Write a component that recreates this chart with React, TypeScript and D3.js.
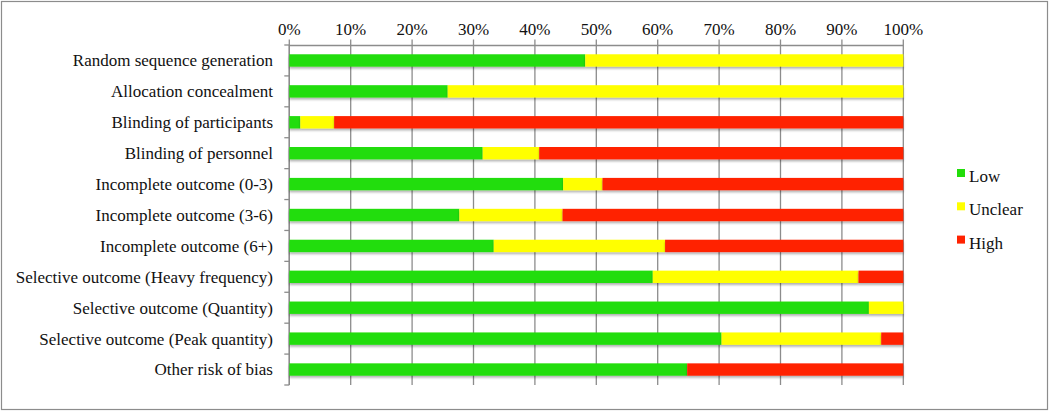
import React from "react";
import * as d3 from "d3";

// risk of bias categories, top to bottom
const categories = [
  "Random sequence generation",
  "Allocation concealment",
  "Blinding of participants",
  "Blinding of personnel",
  "Incomplete outcome (0-3)",
  "Incomplete outcome (3-6)",
  "Incomplete outcome (6+)",
  "Selective outcome (Heavy frequency)",
  "Selective outcome (Quantity)",
  "Selective outcome (Peak quantity)",
  "Other risk of bias",
];

// percentages
const low = [48.2, 25.8, 1.8, 31.5, 44.6, 27.7, 33.3, 59.2, 94.4, 70.4, 64.8];
const unclear = [51.8, 74.2, 5.5, 9.2, 6.4, 16.8, 27.9, 33.5, 5.6, 26.0, 0];
const high = [0, 0, 92.7, 59.3, 49.0, 55.5, 38.8, 7.3, 0, 3.6, 35.2];

const seriesNames = ["Low", "Unclear", "High"];
const colors = ["#22dd0a", "#ffff00", "#ff2200"];
const xTicks = [0, 10, 20, 30, 40, 50, 60, 70, 80, 90, 100];

const W = 1050;
const H = 412;
const font = "Liberation Serif, serif";
const axisColor = "#8c8c8c";

export default function App() {
  const rows = categories.map((c, i) => ({
    cat: c,
    Low: low[i],
    Unclear: unclear[i],
    High: high[i],
  }));

  const stacked = d3.stack<any>().keys(seriesNames)(rows);

  const x = d3.scaleLinear().domain([0, 100]).range([289.3, 903.3]);
  const y = d3
    .scaleBand()
    .domain(categories)
    .range([45, 385])
    .paddingInner(0.6)
    .paddingOuter(0.3);

  const boundaries = d3.range(categories.length + 1).map((i) => 45 + i * (340 / categories.length));

  return (
    <svg
      width={W}
      height={H}
      style={{ position: "absolute", left: 0, top: 0, background: "#fff", fontFamily: font }}
    >
      <defs>
        <filter id="shadow" x="-5%" y="-50%" width="110%" height="200%">
          <feDropShadow dx="0" dy="2" stdDeviation="1.2" floodColor="#000" floodOpacity="0.3" />
        </filter>
      </defs>
      <rect x={1.5} y={1.5} width={W - 4} height={H - 4} fill="#fff" stroke={axisColor} strokeWidth={1.2} />

      {/* vertical gridlines + top axis */}
      {xTicks.map((t) => (
        <g key={t}>
          <line x1={x(t)} x2={x(t)} y1={39.5} y2={385} stroke={axisColor} strokeWidth={1.3} />
          <text x={x(t)} y={35} textAnchor="middle" fontSize={17} fill="#111">
            {t}%
          </text>
        </g>
      ))}
      <line x1={x(0)} x2={x(100)} y1={45.5} y2={45.5} stroke={axisColor} strokeWidth={1.3} />

      {/* left axis */}
      <line x1={x(0)} x2={x(0)} y1={45} y2={385} stroke={axisColor} strokeWidth={1.3} />
      {boundaries.map((b, i) => (
        <line key={i} x1={x(0) - 5} x2={x(0)} y1={b} y2={b} stroke={axisColor} strokeWidth={1.3} />
      ))}

      {/* bars */}
      {stacked.map((s, si) => (
        <g key={s.key} fill={colors[si]} filter="url(#shadow)">
          {s.map((d, i) =>
            d[1] - d[0] > 0 ? (
              <rect
                key={i}
                x={x(d[0])}
                y={y(categories[i])!}
                width={x(d[1]) - x(d[0])}
                height={y.bandwidth()}
              />
            ) : null
          )}
        </g>
      ))}

      {/* category labels */}
      {categories.map((c) => (
        <text
          key={c}
          x={273}
          y={y(c)! + y.bandwidth() / 2}
          dy="0.35em"
          textAnchor="end"
          fontSize={17}
          fill="#111"
        >
          {c}
        </text>
      ))}

      {/* legend */}
      {seriesNames.map((n, i) => (
        <g key={n} transform={`translate(957, ${176 + i * 33.3})`}>
          <rect x={0} y={-7} width={8} height={8} fill={colors[i]} />
          <text x={12} y={0} dy="0.35em" fontSize={17} fill="#111">
            {n}
          </text>
        </g>
      ))}
    </svg>
  );
}
